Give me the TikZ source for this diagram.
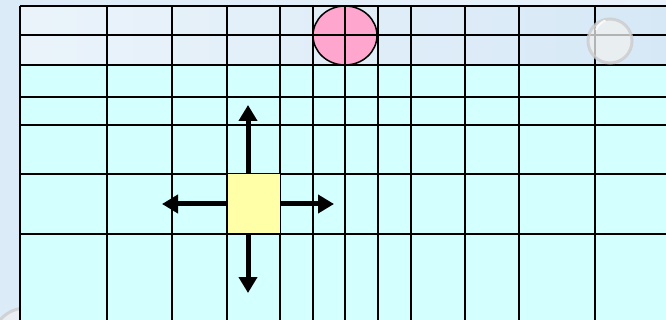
\documentclass[tikz,border=0pt]{standalone}
\usepackage{xcolor}
\usepackage{tikz}
\usetikzlibrary{arrows.meta,positioning,calc,backgrounds}

\definecolor{bgblue}{HTML}{DCEBF8}
\definecolor{bandblue}{HTML}{D6E8F6}
\definecolor{cellcyan}{HTML}{D4FFFF}
\definecolor{ballpink}{HTML}{FFA6CF}
\definecolor{blockyellow}{HTML}{FFFFA8}

\begin{document}
\begin{tikzpicture}[
    x=1pt, y=-1pt,
    gridline/.style={line width=2pt,black},
    block/.style={draw,line width=1pt,fill=blockyellow,minimum width=53pt,
                  minimum height=60pt,inner sep=0pt},
    push/.style={-{Triangle[length=16pt,width=18pt]},line width=5pt,black},
    bubble/.style={fill=gray!12,fill opacity=0.75,draw=gray!40,draw opacity=0.8,
                   line width=3pt},
  ]

  % --- background and frame ---
  \shade[left color=bgblue,right color=bgblue!60!white] (0,0) rectangle (666,320);
  \useasboundingbox (0,0) rectangle (666,320);
  \filldraw[bubble] (26,342) circle (34);
  \shade[left color=bandblue!50!white,right color=bandblue] (20,6) rectangle (666,65);
  \fill[cellcyan] (20,65) rectangle (666,320);

  % --- pink ball on the top row ---
  \fill[ballpink] (345,35.5) ellipse [x radius=32, y radius=29.5];

  % --- the grid ---
  \foreach \gx in {20,107,172,227,280,313,345,378,411,465,519,595}
    \draw[gridline] (\gx,6) -- (\gx,320);
  \foreach \gy in {6,35,65,97,125,174,234}
    \draw[gridline] (20,\gy) -- (666,\gy);
  \draw[line width=1.5pt] (345,35.5) ellipse [x radius=32, y radius=29.5];

  % --- glass bubble (upper right) ---
  \filldraw[bubble] (610,41) circle (22);
  \draw[white,line width=2pt,opacity=0.8] (596,30) arc (200:250:16);

  % --- moving block and its four directions ---
  \node[block] (sq) at (253.5,204) {};
  \coordinate (up)    at (248,105);
  \coordinate (down)  at (248,293);
  \coordinate (left)  at (162,204);
  \coordinate (right) at (334,204);

  \draw[push] (sq.north -| up) -- (up);
  \draw[push] (sq.south -| down) -- (down);
  \draw[push] (sq.west) -- (left);
  \draw[push] (sq.east) -- (right);

\end{tikzpicture}
\end{document}
